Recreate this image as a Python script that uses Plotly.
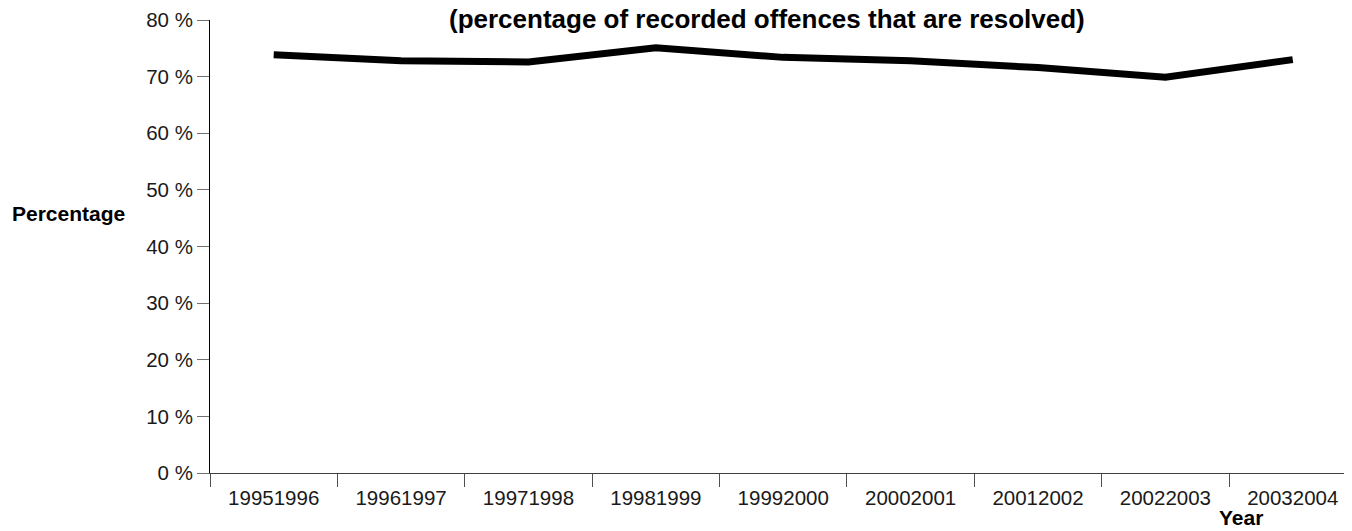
import plotly.graph_objects as go

years = ["19951996", "19961997", "19971998", "19981999", "19992000",
         "20002001", "20012002", "20022003", "20032004"]
resolved_pct = [73.85, 72.8, 72.6, 75.1, 73.4, 72.8, 71.6, 69.9, 73.0]
y_ticks = [0, 10, 20, 30, 40, 50, 60, 70, 80]
y_tick_labels = [f"{v} %" for v in y_ticks]

FONT = "Liberation Sans, Arial, sans-serif"

# page body has an 8px margin; figure sized so it ends at the window edge
W, H = 1344, 523
OFF = 8
L, T, B = 210 - OFF, 20 - OFF, 58
PW, PH = W - L, H - T - B


def px_x(x):  # window pixel -> paper x
    return (x - OFF - L) / PW


def px_y(y):  # window pixel -> paper y
    return (H - B - (y - OFF)) / PH


fig = go.Figure()
fig.add_trace(go.Scatter(
    x=years, y=resolved_pct, mode="lines",
    line=dict(color="black", width=7),
    showlegend=False, hoverinfo="x+y",
))

fig.update_layout(
    width=W, height=H,
    margin=dict(l=L, r=0, t=T, b=B, pad=0),
    paper_bgcolor="white", plot_bgcolor="white",
    font=dict(family=FONT, size=20, color="#1a1a1a"),
    annotations=[
        dict(text="<b>(percentage of recorded offences that are resolved)</b>",
             xref="paper", yref="paper",
             x=px_x(767), y=px_y(3), borderpad=0,
             xanchor="center", yanchor="top", showarrow=False,
             font=dict(family=FONT, size=26, color="black")),
        dict(text="<b>Percentage</b>", xref="paper", yref="paper",
             x=px_x(68.5), y=px_y(214),
             xanchor="center", yanchor="middle", showarrow=False,
             font=dict(family=FONT, size=21, color="black")),
        dict(text="<b>Year</b>", xref="paper", yref="paper",
             x=px_x(1241), y=px_y(531),
             xanchor="center", yanchor="bottom", showarrow=False,
             font=dict(family=FONT, size=21, color="black")),
    ],
    xaxis=dict(
        type="category", categoryorder="array", categoryarray=years,
        range=[-0.5, 8.465],
        showline=True, linecolor="#404040", linewidth=1,
        ticks="outside", tickson="boundaries", ticklen=13,
        tickcolor="#505050", tickwidth=1,
        ticklabelstandoff=6,
        showgrid=False, zeroline=False,
        tickfont=dict(family=FONT, size=20.5, color="#1a1a1a"),
    ),
    yaxis=dict(
        range=[0, 80], tickvals=y_ticks, ticktext=y_tick_labels,
        showline=True, linecolor="black", linewidth=1,
        ticks="outside", ticklen=12, tickcolor="#707070", tickwidth=1,
        showgrid=False, zeroline=False,
        tickfont=dict(family=FONT, size=20.5, color="#1a1a1a"),
    ),
)

fig.write_html("out.html")
